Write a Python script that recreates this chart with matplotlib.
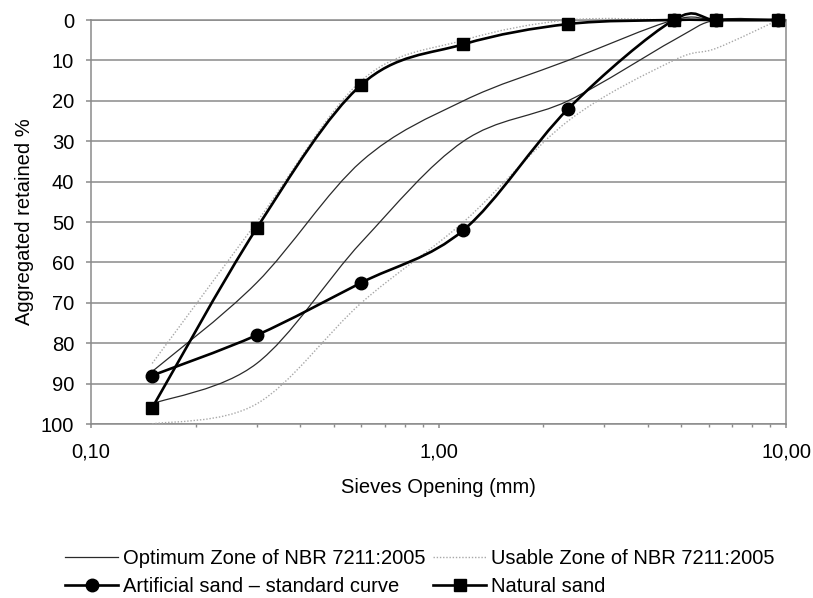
import numpy as np
import matplotlib
matplotlib.use("Agg")
import matplotlib.pyplot as plt
from matplotlib.path import Path
from matplotlib.patches import PathPatch
from matplotlib.lines import Line2D
from matplotlib.ticker import FixedLocator, FixedFormatter, LogLocator, NullFormatter

plt.rcParams['font.family'] = ['Liberation Sans', 'DejaVu Sans']

# ---- data ----
sieves = [0.15, 0.3, 0.6, 1.18, 2.36, 4.75, 6.3, 9.5]
optimum_lower = [87, 65, 35, 20, 10, 0, 0, 0]
optimum_upper = [95, 85, 55, 30, 20, 5, 0, 0]
usable_lower = [85, 50, 15, 5, 0, 0, 0, 0]
usable_upper = [100, 95, 70, 50, 25, 10, 7, 0]
artificial_sand = [88, 78, 65, 52, 22, 0, 0, 0]
natural_sand = [96, 51.5, 16, 6, 1, 0, 0, 0]

x_tick_values = [0.1, 1, 10]
x_tick_labels = ["0,10", "1,00", "10,00"]
y_tick_values = list(range(0, 101, 10))

legend_labels = ["Optimum Zone of NBR 7211:2005", "Artificial sand \u2013 standard curve",
                 "Usable Zone of NBR 7211:2005", "Natural sand"]

FS = 14.5
GRAY = "#8a8a8a"


def smooth_path(xs, ys):
    """Excel-like smoothed line (Catmull-Rom Bezier) in log-x space."""
    u = np.log10(np.asarray(xs, float))
    y = np.asarray(ys, float)
    n = len(u)
    verts = [(xs[0], y[0])]
    codes = [Path.MOVETO]
    for i in range(n - 1):
        i0 = max(i - 1, 0)
        i3 = min(i + 2, n - 1)
        c1u = u[i] + (u[i + 1] - u[i0]) / 6
        c1y = y[i] + (y[i + 1] - y[i0]) / 6
        c2u = u[i + 1] - (u[i3] - u[i]) / 6
        c2y = y[i + 1] - (y[i3] - y[i]) / 6
        verts += [(10 ** c1u, c1y), (10 ** c2u, c2y), (xs[i + 1], y[i + 1])]
        codes += [Path.CURVE4] * 3
    return Path(verts, codes)


fig = plt.figure(figsize=(8.13, 5.98), dpi=100)
ax = fig.add_axes([91 / 813, 1 - 424 / 598, 695 / 813, 404 / 598])

ax.set_xscale('log')
ax.set_xlim(0.1, 10)
ax.set_ylim(100, 0)

# grid
ax.yaxis.grid(True, color=GRAY, lw=1.1)
ax.set_axisbelow(True)
for s in ax.spines.values():
    s.set_color(GRAY)
    s.set_linewidth(1.1)

opt_style = dict(color="#2a2a2a", lw=0.9, ls='-')
use_style = dict(color="#a8a8a8", lw=1.0, ls=(0, (1, 1.3)))
thick_style = dict(color="black", lw=1.9, ls='-')

for ys in (optimum_lower, optimum_upper):
    ax.add_patch(PathPatch(smooth_path(sieves, ys), fill=False, clip_on=False, zorder=3, **opt_style))
for ys in (usable_lower, usable_upper):
    ax.add_patch(PathPatch(smooth_path(sieves, ys), fill=False, clip_on=False, zorder=3, **use_style))

ax.add_patch(PathPatch(smooth_path(sieves, artificial_sand), fill=False, clip_on=False, zorder=4,
                       joinstyle='round', capstyle='round', **thick_style))
ax.plot(sieves, artificial_sand, ls='none', marker='o', ms=9, color='black', clip_on=False, zorder=5)
ax.add_patch(PathPatch(smooth_path(sieves, natural_sand), fill=False, clip_on=False, zorder=6,
                       joinstyle='round', capstyle='round', **thick_style))
ax.plot(sieves, natural_sand, ls='none', marker='s', ms=9, color='black', clip_on=False, zorder=7)

# ticks
ax.xaxis.set_major_locator(FixedLocator(x_tick_values))
ax.xaxis.set_major_formatter(FixedFormatter(x_tick_labels))
ax.xaxis.set_minor_locator(LogLocator(base=10, subs=np.arange(2, 10)))
ax.xaxis.set_minor_formatter(NullFormatter())
ax.set_yticks(y_tick_values)
ax.set_yticklabels([str(v) for v in y_tick_values])
ax.tick_params(axis='y', which='major', direction='out', length=3.6, width=1.1, color=GRAY,
               labelsize=FS, pad=8.5, labelcolor='black')
ax.tick_params(axis='x', which='major', direction='out', length=3.0, width=1.1, color=GRAY,
               labelsize=FS, pad=10, labelcolor='black')
ax.tick_params(axis='x', which='minor', direction='out', length=2.2, width=1.0, color=GRAY)

ax.set_xlabel("Sieves Opening (mm)", fontsize=FS, labelpad=12)
ax.set_ylabel("Aggregated retained %", fontsize=FS, labelpad=5)

handles = [
    Line2D([], [], **opt_style),
    Line2D([], [], marker='o', ms=9, **thick_style),
    Line2D([], [], **use_style),
    Line2D([], [], marker='s', ms=9, **thick_style),
]
fig.legend(handles, legend_labels, ncol=2, loc='upper left',
           bbox_to_anchor=(65 / 813, 1 - 549 / 598), frameon=False, fontsize=FS,
           handlelength=2.65, handletextpad=0.25, columnspacing=0.35, labelspacing=0.45,
           borderpad=0, borderaxespad=0, numpoints=1)

fig.savefig("out.png", dpi=100)
